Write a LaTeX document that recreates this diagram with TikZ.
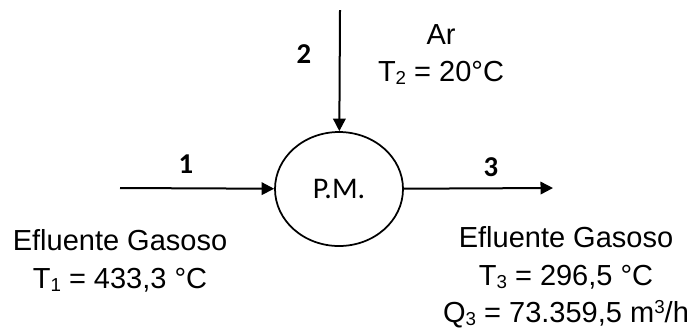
\documentclass[tikz,border=0pt]{standalone}
\usepackage{fontspec}
\setmainfont{Liberation Sans}
\newfontfamily\calibri{Carlito}
\usepackage{tikz}
\usetikzlibrary{arrows.meta,shapes.geometric}

\newcommand{\lowidx}[1]{\raisebox{-1.2pt}{\fontsize{7.5}{7.5}\selectfont #1}}
\newcommand{\highidx}[1]{\raisebox{3.6pt}{\fontsize{7.5}{7.5}\selectfont #1}}

\begin{document}
\begin{tikzpicture}[
                x=0.4pt, y=-0.4pt,
                every node/.style={align=center, font=\fontsize{11.6}{15}\selectfont},
                main node/.style={draw, ellipse, line width=0.7pt, inner sep=0pt,
                    minimum width=51.2pt, minimum height=45.6pt,
                    font=\calibri\fontsize{12}{14}\selectfont},
                num/.style={font=\calibri\bfseries\fontsize{11.5}{13}\selectfont},
                info/.style={anchor=north, inner sep=0pt},
                edge/.style={-{Triangle[length=5pt,width=5pt]}, line width=0.8pt}
            ]
            \useasboundingbox (0,0) rectangle (691,329);

            % Nodes
            \node[main node] (PM) at (339,189) {P.M.};
            \coordinate (A1) at (120,188);
            \coordinate (A2) at (340,10);
            \coordinate (A3) at (553,188);

            \node[num] (N1) at (186,164) {1};
            \node[num] (N2) at (304,54) {2};
            \node[num] (N3) at (491,167) {3};

            \node[info] (E1) at (120,229) {Efluente Gasoso\\T\lowidx{1} = 433,3 °C};
            \node[info] (E2) at (441,24) {Ar\\T\lowidx{2} = 20°C};
            \node[info] (E3) at (566,226) {Efluente Gasoso\\T\lowidx{3} = 296,5 °C\\Q\lowidx{3} = 73.359,5 m\highidx{3}/h};

            % Edges
            \draw[edge] (A1) -- (PM);
            \draw[edge] (A2) -- (PM);
            \draw[edge] (PM) -- (A3);

            \end{tikzpicture}
\end{document}
